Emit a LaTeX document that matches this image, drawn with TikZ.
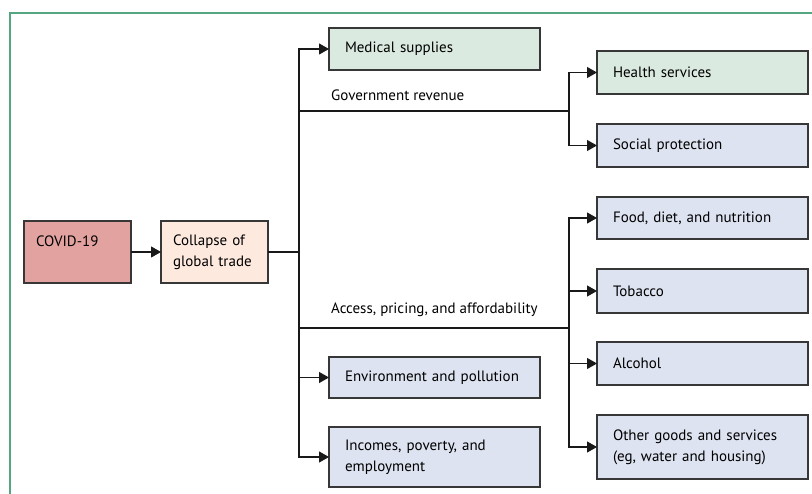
\documentclass[tikz,border=0pt]{standalone}
\usepackage{fontspec}
\setmainfont{PT Sans}
\usetikzlibrary{arrows.meta}
\definecolor{covidred}{RGB}{226,162,160}
\definecolor{tradepink}{RGB}{253,233,222}
\definecolor{healthgreen}{RGB}{218,234,224}
\definecolor{outcomeblue}{RGB}{221,227,240}
\definecolor{framegreen}{RGB}{84,166,128}
\definecolor{boxgray}{RGB}{55,55,55}
\begin{document}
\begin{tikzpicture}[x=1pt,y=-1pt,
  font=\fontsize{15}{21}\selectfont,
  box/.style={draw=boxgray,line width=1.3pt,anchor=north west,inner xsep=16pt,inner ysep=0pt,
    text width=179pt,minimum height=#1,align=left,outer sep=0pt},
  smallbox/.style={box=62pt,inner xsep=12pt,text width=83pt},
  link/.style={line width=1.1pt,draw=black!90},
  arr/.style={link,-{Triangle[length=10pt,width=11pt]}},
  lbl/.style={anchor=west,inner sep=0pt}]

  \clip (0,0) rectangle (812,494);
  \draw[framegreen,line width=1.3pt] (10,13) rectangle (840,520);

  \node[smallbox,fill=covidred] (covid) at (24,221) {COVID-19\\\mbox{}};
  \node[smallbox,fill=tradepink] (trade) at (161,221) {Collapse of\\global trade};

  \node[box=42pt,fill=healthgreen] (medical) at (329,28) {Medical supplies};
  \node[box=41pt,fill=outcomeblue] (environment) at (329,357) {Environment and pollution};
  \node[box=60pt,fill=outcomeblue] (incomes) at (329,427) {Incomes, poverty, and\\employment};

  \node[box=43pt,fill=healthgreen] (health) at (597,51) {Health services};
  \node[box=43pt,fill=outcomeblue] (social) at (597,124) {Social protection};
  \node[box=42pt,fill=outcomeblue] (food) at (597,197) {Food, diet, and nutrition};
  \node[box=44pt,fill=outcomeblue] (tobacco) at (597,269) {Tobacco};
  \node[box=43pt,fill=outcomeblue] (alcohol) at (597,342) {Alcohol};
  \node[box=64pt,fill=outcomeblue] (other) at (597,415) {Other goods and services\\(eg, water and housing)};

  \coordinate (trunk) at (299,252);
  \coordinate (revenue) at (569,111);
  \coordinate (access) at (569,328);

  \node[lbl] (revenuelbl) at (331,95) {Government revenue};
  \node[lbl] (accesslbl) at (331,310) {Access, pricing, and affordability};

  \draw[arr] (covid) -- (trade);
  \draw[link] (trade) -- (trunk);
  \draw[arr] (trunk) |- (medical.west);
  \draw[arr] (trunk) |- (environment.west);
  \draw[arr] (trunk) |- (incomes.west);
  \draw[link] (trunk) |- (revenue);
  \draw[link] (trunk) |- (access);

  \draw[arr] (revenue) |- (health.west);
  \draw[arr] (revenue) |- (social.west);

  \draw[arr] (access) |- (food.west);
  \draw[arr] (access) |- (tobacco.west);
  \draw[arr] (access) |- (alcohol.west);
  \draw[arr] (access) |- (other.west);
\end{tikzpicture}
\end{document}
